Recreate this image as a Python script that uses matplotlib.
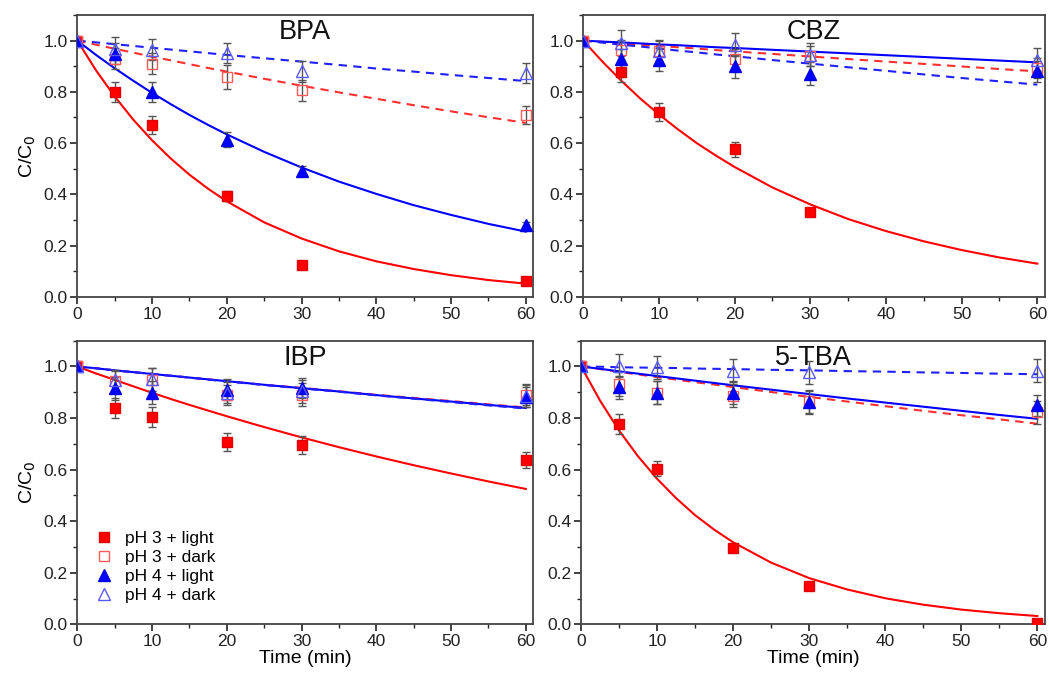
import numpy as np
import matplotlib
matplotlib.use('Agg')
import matplotlib.pyplot as plt
from matplotlib.ticker import MultipleLocator

plt.rcParams['font.family'] = ['Liberation Sans', 'DejaVu Sans']

# sampling times (min)
t = [0, 5, 10, 20, 30, 60]
fit_t = [0, 2.5, 5, 7.5, 10, 12.5, 15, 17.5, 20, 25, 30, 35, 40, 45, 50, 55, 60]

labels = ['pH 3 + light', 'pH 3 + dark', 'pH 4 + light', 'pH 4 + dark']
panels = ['BPA', 'CBZ', 'IBP', '5-TBA']

# measured C/C0, order: pH3 light, pH3 dark, pH4 light, pH4 dark
bpa_y = [[1.0, 0.80, 0.67, 0.394, 0.125, 0.062],
         [1.0, 0.93, 0.91, 0.858, 0.806, 0.708],
         [1.0, 0.949, 0.80, 0.614, 0.491, 0.281],
         [1.0, 0.968, 0.965, 0.952, 0.88, 0.874]]
cbz_y = [[1.0, 0.877, 0.721, 0.576, 0.332, np.nan],
         [1.0, 0.963, 0.96, 0.928, 0.94, 0.893],
         [1.0, 0.928, 0.925, 0.899, 0.871, 0.88],
         [1.0, 0.991, 0.958, 0.984, 0.945, 0.925]]
ibp_y = [[1.0, 0.839, 0.804, 0.707, 0.695, 0.637],
         [1.0, 0.942, 0.948, 0.89, 0.89, 0.89],
         [1.0, 0.916, 0.899, 0.91, 0.916, 0.881],
         [1.0, 0.948, 0.95, 0.899, 0.903, 0.886]]
tba_y = [[1.0, 0.777, 0.604, 0.294, 0.147, 0.004],
         [1.0, 0.932, 0.899, 0.886, 0.865, 0.822],
         [1.0, 0.919, 0.899, 0.899, 0.861, 0.849],
         [1.0, 1.003, 0.997, 0.983, 0.978, 0.983]]

# error bars
bpa_err = [[0, 0.04, 0.035, 0.02, 0.01, 0.01],
           [0, 0.04, 0.04, 0.045, 0.04, 0.035],
           [0, 0.04, 0.04, 0.03, 0.02, 0.01],
           [0, 0.045, 0.04, 0.04, 0.04, 0.04]]
cbz_err = [[0, 0.04, 0.035, 0.03, 0.01, 0],
           [0, 0.04, 0.04, 0.04, 0.04, 0.04],
           [0, 0.04, 0.045, 0.045, 0.045, 0.04],
           [0, 0.05, 0.045, 0.045, 0.045, 0.045]]
ibp_err = [[0, 0.04, 0.04, 0.035, 0.035, 0.03],
           [0, 0.04, 0.045, 0.04, 0.045, 0.04],
           [0, 0.045, 0.045, 0.04, 0.04, 0.04],
           [0, 0.04, 0.045, 0.04, 0.045, 0.045]]
tba_err = [[0, 0.04, 0.03, 0.015, 0.015, 0.01],
           [0, 0.045, 0.045, 0.045, 0.045, 0.045],
           [0, 0.045, 0.045, 0.045, 0.045, 0.04],
           [0, 0.045, 0.045, 0.045, 0.045, 0.045]]

# fitted first-order curves at fit_t
bpa_fit = [[1.0, 0.884, 0.782, 0.691, 0.611, 0.540, 0.477, 0.422, 0.373, 0.291, 0.228, 0.178, 0.139, 0.109, 0.085, 0.066, 0.052],
           [1.0, 0.984, 0.968, 0.953, 0.937, 0.923, 0.908, 0.893, 0.879, 0.851, 0.824, 0.798, 0.773, 0.748, 0.724, 0.701, 0.679],
           [1.0, 0.944, 0.892, 0.843, 0.796, 0.752, 0.710, 0.671, 0.634, 0.566, 0.505, 0.450, 0.402, 0.358, 0.320, 0.285, 0.255],
           [1.0, 0.993, 0.986, 0.979, 0.972, 0.965, 0.958, 0.951, 0.944, 0.931, 0.918, 0.905, 0.891, 0.879, 0.866, 0.854, 0.842]]
cbz_fit = [[1.0, 0.919, 0.844, 0.775, 0.712, 0.654, 0.600, 0.552, 0.507, 0.427, 0.361, 0.304, 0.257, 0.217, 0.183, 0.154, 0.130],
           [1.0, 0.995, 0.989, 0.984, 0.979, 0.974, 0.969, 0.963, 0.958, 0.948, 0.938, 0.928, 0.918, 0.909, 0.899, 0.889, 0.880],
           [1.0, 0.996, 0.993, 0.989, 0.985, 0.982, 0.978, 0.974, 0.971, 0.964, 0.957, 0.950, 0.943, 0.936, 0.929, 0.922, 0.915],
           [1.0, 0.992, 0.984, 0.977, 0.969, 0.961, 0.954, 0.946, 0.939, 0.924, 0.910, 0.896, 0.882, 0.868, 0.854, 0.841, 0.828]]
ibp_fit = [[1.0, 0.973, 0.948, 0.923, 0.898, 0.874, 0.851, 0.829, 0.807, 0.765, 0.725, 0.687, 0.651, 0.617, 0.585, 0.554, 0.525],
           [1.0, 0.993, 0.985, 0.978, 0.971, 0.964, 0.957, 0.950, 0.943, 0.929, 0.917, 0.904, 0.890, 0.878, 0.866, 0.853, 0.841],
           [1.0, 0.993, 0.985, 0.978, 0.971, 0.964, 0.957, 0.950, 0.943, 0.929, 0.916, 0.903, 0.889, 0.876, 0.864, 0.851, 0.839],
           [1.0, 0.993, 0.985, 0.978, 0.971, 0.964, 0.957, 0.949, 0.942, 0.928, 0.915, 0.902, 0.888, 0.875, 0.862, 0.849, 0.837]]
tba_fit = [[1.0, 0.867, 0.751, 0.651, 0.564, 0.489, 0.423, 0.367, 0.318, 0.239, 0.179, 0.135, 0.101, 0.076, 0.057, 0.043, 0.032],
           [1.0, 0.990, 0.979, 0.969, 0.959, 0.949, 0.939, 0.930, 0.920, 0.901, 0.882, 0.864, 0.846, 0.828, 0.811, 0.795, 0.778],
           [1.0, 0.991, 0.981, 0.972, 0.963, 0.954, 0.945, 0.936, 0.927, 0.910, 0.893, 0.876, 0.860, 0.844, 0.828, 0.812, 0.797],
           [1.0, 0.999, 0.997, 0.996, 0.995, 0.994, 0.992, 0.991, 0.990, 0.987, 0.985, 0.982, 0.980, 0.977, 0.975, 0.972, 0.970]]

all_y = [bpa_y, cbz_y, ibp_y, tba_y]
all_err = [bpa_err, cbz_err, ibp_err, tba_err]
all_fit = [bpa_fit, cbz_fit, ibp_fit, tba_fit]

line_col = ['#ff0000', '#ff3030', '#0000ff', '#2020ff']
line_sty = ['-', '--', '-', '--']
mk = ['s', 's', '^', '^']
mk_face = ['#ff0000', 'none', '#0000ff', 'none']
mk_edge = ['#e00000', '#ff5a5a', '#0000e0', '#5a5aff']
mk_size = [7, 7, 8.5, 8.5]

fig = plt.figure(figsize=(10.49, 6.76), dpi=100)
pos = [[0.0737, 0.5607, 0.4347, 0.4172],
       [0.5560, 0.5607, 0.4401, 0.4172],
       [0.0737, 0.0765, 0.4347, 0.4195],
       [0.5540, 0.0765, 0.4421, 0.4195]]

for i in range(4):
    ax = fig.add_axes(pos[i])
    for j in range(4):
        ax.plot(fit_t, all_fit[i][j], color=line_col[j], ls=line_sty[j], lw=1.5,
                dashes=(4, 3) if line_sty[j] == '--' else (None, None), zorder=2)
    for j in range(4):
        ax.errorbar(t, all_y[i][j], yerr=all_err[i][j], fmt='none', ecolor='#555555',
                    elinewidth=1, capsize=3, capthick=1, zorder=3)
        ax.plot(t, all_y[i][j], ls='none', marker=mk[j], ms=mk_size[j],
                mfc=mk_face[j], mec=mk_edge[j], mew=1.0, label=labels[j], zorder=4)

    ax.set_xlim(0, 61)
    ax.set_ylim(0, 1.1)
    ax.xaxis.set_major_locator(MultipleLocator(10))
    ax.xaxis.set_minor_locator(MultipleLocator(5))
    ax.yaxis.set_minor_locator(MultipleLocator(0.1))
    ax.set_yticks(np.arange(0, 1.01, 0.2))
    ax.set_yticklabels(['%.1f' % v for v in np.arange(0, 1.01, 0.2)])
    ax.tick_params(which='major', direction='out', length=5, width=1.2, labelsize=12.5,
                   pad=2, colors='#222222')
    ax.tick_params(which='minor', direction='out', length=3, width=1.0, colors='#222222')
    ax.tick_params(top=False, right=False)
    for s in ax.spines.values():
        s.set_linewidth(1.3)
        s.set_color('#444444')
    ax.text(0.5, 0.985, panels[i], transform=ax.transAxes, ha='center', va='top',
            fontsize=19.5, color='#111111')
    if i % 2 == 0:
        ax.set_ylabel('C/C$_0$', fontsize=14, labelpad=4)
    if i >= 2:
        ax.set_xlabel('Time (min)', fontsize=14, labelpad=1)
    if i == 2:
        ax.legend(loc='lower left', bbox_to_anchor=(0.02, 0.05), frameon=False,
                  fontsize=12.5, handletextpad=0.6, labelspacing=0.22, borderaxespad=0,
                  handlelength=1.2)

fig.savefig('out.png', dpi=100)
